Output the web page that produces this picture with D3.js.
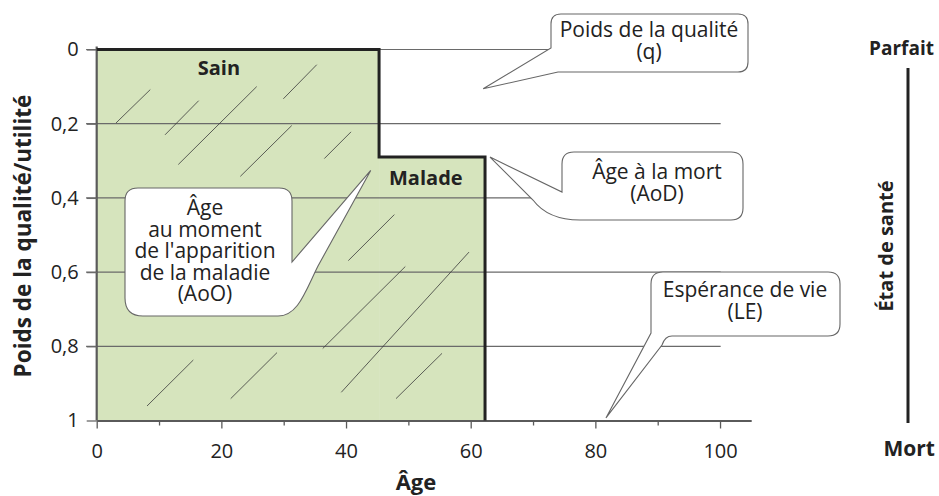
<!DOCTYPE html>
<html>
<head>
<meta charset="utf-8">
<script src="https://cdn.jsdelivr.net/npm/d3@7"></script>
<style>
  body { margin: 0; background: #fff; }
  svg { display: block; font-family: "Open Sans", sans-serif; }
</style>
</head>
<body>
<svg id="chart" width="939" height="496"></svg>
<script>
// Health states over a lifetime: age span and quality weight (0 = parfait, 1 = mort)
const states = ["Sain", "Malade"];
const stateStart = [0, 45.3];
const stateEnd = [45.3, 62.3];
const stateWeight = [0, 0.29];

// Axis ticks
const xTicks = [0, 20, 40, 60, 80, 100];
const xMinorTicks = [10, 30, 50, 70, 90];
const yTicks = [0, 0.2, 0.4, 0.6, 0.8, 1];
const yTickLabels = ["0", "0,2", "0,4", "0,6", "0,8", "1"];

// Decorative hatch strokes inside the lived area: [age1, weight1, age2, weight2]
const hatch = [
  [3.1, 0.198, 8.6, 0.108],
  [10.96, 0.230, 16.36, 0.138],
  [13.09, 0.310, 25.67, 0.100],
  [23.04, 0.342, 31.29, 0.205],
  [29.94, 0.133, 35.30, 0.041],
  [36.52, 0.294, 40.80, 0.222],
  [8.07, 0.961, 15.50, 0.837],
  [21.50, 0.941, 28.93, 0.817],
  [40.37, 0.569, 47.75, 0.445],
  [36.26, 0.806, 49.51, 0.585],
  [39.24, 0.924, 59.73, 0.546],
  [48.02, 0.941, 55.40, 0.819]
];

// Callouts: text lines and the point each one designates [age, weight]
const calloutTexts = [
  ["Poids de la qualité", "(q)"],
  ["Âge à la mort", "(AoD)"],
  ["Âge", "au moment", "de l'apparition", "de la maladie", "(AoO)"],
  ["Espérance de vie", "(LE)"]
];
const calloutTips = [[62.0, 0.106], [63.1, 0.29], [43.96, 0.326], [81.7, 0.993]];

const svg = d3.select("#chart");
const x = d3.scaleLinear().domain([0, 105]).range([96.7, 751.2]);
const y = d3.scaleLinear().domain([0, 1]).range([49.5, 420.5]);

const GREEN = "#d6e4bd";
const GRID = "#6a6a6a";
const INK = "#222";

// Lived area under each health state
svg.append("g").selectAll("rect")
  .data(states)
  .join("rect")
  .attr("x", (d, i) => x(stateStart[i]))
  .attr("width", (d, i) => x(stateEnd[i]) - x(stateStart[i]))
  .attr("y", (d, i) => y(stateWeight[i]))
  .attr("height", (d, i) => y(1) - y(stateWeight[i]))
  .attr("fill", GREEN);

// Horizontal reference lines
svg.append("g").selectAll("line")
  .data(yTicks.slice(0, -1))
  .join("line")
  .attr("x1", x(-1.7)).attr("x2", x(100.1))
  .attr("y1", d => y(d)).attr("y2", d => y(d))
  .attr("stroke", GRID).attr("stroke-width", 1.2);

// Hatching
svg.append("g").selectAll("line")
  .data(hatch)
  .join("line")
  .attr("x1", d => x(d[0])).attr("y1", d => y(d[1]))
  .attr("x2", d => x(d[2])).attr("y2", d => y(d[3]))
  .attr("stroke", "#3a3a3a").attr("stroke-width", 0.8);

// Axes
const yAxis = svg.append("g")
  .attr("transform", `translate(${x(0)},0)`)
  .call(d3.axisLeft(y).tickValues(yTicks).tickFormat((d, i) => yTickLabels[i])
    .tickSize(10).tickSizeOuter(0).tickPadding(8));
const xAxis = svg.append("g")
  .attr("transform", `translate(0,${y(1)})`)
  .call(d3.axisBottom(x).tickValues(xTicks).tickSize(8).tickSizeOuter(0).tickPadding(15));
svg.append("g")
  .attr("transform", `translate(0,${y(1)})`)
  .call(d3.axisBottom(x).tickValues(xMinorTicks).tickSize(5).tickFormat(""))
  .call(g => g.select(".domain").remove());

svg.selectAll(".domain").attr("stroke", "#5a5a5a").attr("stroke-width", 2.2);
svg.selectAll(".tick line").attr("stroke", "#5a5a5a").attr("stroke-width", 1.3);
svg.selectAll(".tick text")
  .attr("font-family", "Open Sans, sans-serif")
  .attr("font-size", 20).attr("fill", INK);
yAxis.select(".domain").attr("d", `M0,${y(0) - 3}V${y(1)}`);
yAxis.selectAll(".tick line").attr("stroke", GRID);

// Health-state outline (step)
const stepPts = stateStart.map((s, i) => [s, stateWeight[i]])
  .concat([[stateEnd[stateEnd.length - 1], 1]]);
svg.append("path")
  .attr("d", d3.line().x(d => x(d[0])).y(d => y(d[1])).curve(d3.curveStepAfter)(stepPts))
  .attr("fill", "none").attr("stroke", INK).attr("stroke-width", 3)
  .attr("stroke-linejoin", "miter");

// State labels
const stateLabelPos = [[19.6, 0.07], [52.8, 0.365]];
svg.append("g").selectAll("text")
  .data(states)
  .join("text")
  .attr("x", (d, i) => x(stateLabelPos[i][0]))
  .attr("y", (d, i) => y(stateLabelPos[i][1]))
  .attr("text-anchor", "middle")
  .attr("font-size", 20).attr("font-weight", 700).attr("fill", INK)
  .text(d => d);

// Callout bubbles (box geometry in px, pointer aimed at the data point)
const boxes = [
  { x0: 551, y0: 14, x1: 748, y1: 72, r: 10, cx: 649, top: 37 },
  { x0: 562, y0: 152, x1: 743, y1: 220, r: 12, cx: 657, top: 179 },
  { x0: 125, y0: 188, x1: 292, y1: 316, r: 13, cx: 205, top: 215 },
  { x0: 651, y0: 272, x1: 840, y1: 336, r: 12, cx: 745, top: 297 }
];
const lineGap = 21.5;
function topAndRight(b) {
  return `M${b.x0 + b.r},${b.y0}H${b.x1 - b.r}Q${b.x1},${b.y0} ${b.x1},${b.y0 + b.r}`;
}
function bubblePath(i) {
  const b = boxes[i];
  const t = [x(calloutTips[i][0]), y(calloutTips[i][1])];
  if (i === 0) {
    return topAndRight(b) +
      `V${b.y1 - b.r}Q${b.x1},${b.y1} ${b.x1 - b.r},${b.y1}H${b.x0 + 7}` +
      `L${t[0]},${t[1]}L${b.x0},${b.y0 + 34}V${b.y0 + b.r}Q${b.x0},${b.y0} ${b.x0 + b.r},${b.y0}Z`;
  }
  if (i === 1) {
    return topAndRight(b) +
      `V${b.y1 - b.r}Q${b.x1},${b.y1} ${b.x1 - b.r},${b.y1}H${b.x0 + 18}` +
      `Q${b.x0 - 14},${b.y1} ${b.x0 - 29},${b.y1 - 20}` +
      `L${t[0]},${t[1]}L${b.x0},${b.y0 + 40}V${b.y0 + b.r}Q${b.x0},${b.y0} ${b.x0 + b.r},${b.y0}Z`;
  }
  if (i === 2) {
    return topAndRight(b) +
      `V${b.y0 + 74}L${t[0]},${t[1]}L${b.x1 + 26},${b.y0 + 78}` +
      `C${b.x1 + 13},${b.y0 + 104} ${b.x1 + 6},${b.y1} ${b.x1 - 14},${b.y1}` +
      `H${b.x0 + 18}Q${b.x0},${b.y1} ${b.x0},${b.y1 - 18}V${b.y0 + b.r}Q${b.x0},${b.y0} ${b.x0 + b.r},${b.y0}Z`;
  }
  return topAndRight(b) +
    `V${b.y1 - b.r}Q${b.x1},${b.y1} ${b.x1 - b.r},${b.y1}H${b.x0 + 21}` +
    `Q${b.x0 + 14},${b.y1} ${b.x0 + 11},${b.y1 + 9}` +
    `L${t[0]},${t[1]}L${b.x0},${b.y1 - 3}V${b.y0 + b.r}Q${b.x0},${b.y0} ${b.x0 + b.r},${b.y0}Z`;
}
const bubbles = svg.append("g").selectAll("g")
  .data(calloutTexts)
  .join("g");
bubbles.append("path")
  .attr("d", (d, i) => bubblePath(i))
  .attr("fill", "#fff").attr("stroke", "#666").attr("stroke-width", 1.1);
bubbles.each(function (lines, i) {
  const b = boxes[i];
  d3.select(this).append("text")
    .attr("text-anchor", "middle")
    .attr("font-size", 21).attr("fill", INK)
    .selectAll("tspan")
    .data(lines)
    .join("tspan")
    .attr("x", b.cx)
    .attr("y", (d, j) => b.top + j * lineGap)
    .text(d => d);
});

// Axis titles
svg.append("text")
  .attr("transform", `translate(31,236) rotate(-90)`)
  .attr("text-anchor", "middle")
  .attr("font-size", 22.5).attr("font-weight", 700).attr("fill", INK)
  .text("Poids de la qualité/utilité");
svg.append("text")
  .attr("x", 416).attr("y", 490)
  .attr("text-anchor", "middle")
  .attr("font-size", 22).attr("font-weight", 700).attr("fill", INK)
  .text("Âge");

// Health-state scale on the right
svg.append("line")
  .attr("x1", 908).attr("x2", 908).attr("y1", 68).attr("y2", 423)
  .attr("stroke", INK).attr("stroke-width", 3);
svg.append("text")
  .attr("x", 934).attr("y", 55).attr("text-anchor", "end")
  .attr("font-size", 19).attr("font-weight", 700).attr("fill", INK)
  .text("Parfait");
svg.append("text")
  .attr("x", 935).attr("y", 456).attr("text-anchor", "end")
  .attr("font-size", 21).attr("font-weight", 700).attr("fill", INK)
  .text("Mort");
svg.append("text")
  .attr("transform", `translate(893,246) rotate(-90)`)
  .attr("text-anchor", "middle")
  .attr("font-size", 20).attr("font-weight", 700).attr("fill", INK)
  .text("État de santé");
</script>
</body>
</html>
